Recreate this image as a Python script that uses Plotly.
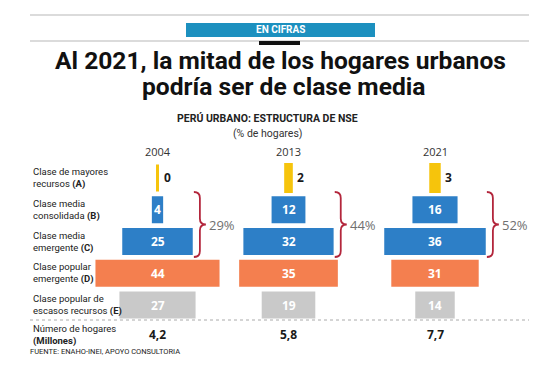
import plotly.graph_objects as go

# ---------------- data ----------------
years = ["2004", "2013", "2021"]
categories = ["A", "B", "C", "D", "E"]
label_main = ["Clase de mayores<br>recursos", "Clase media<br>consolidada", "Clase media<br>emergente",
              "Clase popular<br>emergente", "Clase popular de<br>escasos recursos"]
values_2004 = [0, 4, 25, 44, 27]
values_2013 = [2, 12, 32, 35, 19]
values_2021 = [3, 16, 36, 31, 14]
households = [4.2, 5.8, 7.7]
colors = ["#f6c40c", "#2d7fc7", "#2d7fc7", "#f47f4f", "#c9c9c9"]

series = [values_2004, values_2013, values_2021]

# ---------------- layout helpers ----------------
# the page body has an 8px margin, so the figure is drawn at (8, 8)
OFF = 8
W, H = 550, 359
def px(x): return (x - OFF) / W
def py(y): return 1 - (y - OFF) / H

LABEL = "Roboto, sans-serif"
SANS = "Open Sans, Roboto, sans-serif"

col_centers = [157.5, 288.5, 435.0]
half_px = 65.0
unit_px = 2.82
R = half_px / unit_px
ydom = [py(321), py(162)]

fig = go.Figure()
axis_names = ["x", "x2", "x3"]
layout_axes = {}
for i, (vals, yr) in enumerate(zip(series, years)):
    fig.add_trace(go.Bar(
        y=categories, x=vals, base=[-v / 2 for v in vals], orientation="h",
        marker=dict(color=colors, line=dict(color=colors, width=[3, 0, 0, 0, 0])),
        xaxis=axis_names[i], yaxis="y", showlegend=False, hoverinfo="skip",
    ))
    key = "xaxis" if i == 0 else f"xaxis{i+1}"
    layout_axes[key] = dict(domain=[px(col_centers[i] - half_px), px(col_centers[i] + half_px)],
                            range=[-R, R], visible=False, anchor="y", fixedrange=True)

annotations = []
shapes = []

def ann(**kw):
    kw.setdefault("showarrow", False)
    kw.setdefault("xanchor", "center")
    kw.setdefault("yanchor", "middle")
    annotations.append(kw)

for i, (vals, yr) in enumerate(zip(series, years)):
    xr = axis_names[i]
    ann(xref=xr, yref="paper", x=0, y=py(151), text=yr,
        font=dict(family=SANS, size=11, color="#333"))
    for cat, v in zip(categories, vals):
        if cat == "A":
            ann(xref=xr, yref="y", x=v / 2, y=cat, xanchor="left", xshift=4,
                text=f"<b>{v}</b>", font=dict(family=SANS, size=12, color="#1a1a1a"))
        else:
            ann(xref=xr, yref="y", x=0, y=cat, text=f"<b>{v}</b>",
                font=dict(family=SANS, size=12, color="white"))
    # brace around B + C (clase media)
    c_half = vals[2] / 2
    yt, ym, yb = py(192), py(224.5), py(257)
    r = 6 / H
    path = (f"M 0,{yt} Q 6,{yt} 6,{yt - r} L 6,{ym + r} Q 6,{ym} 12,{ym} "
            f"Q 6,{ym} 6,{ym - r} L 6,{yb + r} Q 6,{yb} 0,{yb}")
    shapes.append(dict(type="path", xref=xr, yref="paper", xsizemode="pixel", xanchor=c_half + 0.4,
                       path=path, line=dict(color="#b3263c", width=1.8)))
    ann(xref=xr, yref="paper", x=c_half, xshift=14, y=py(224.5), xanchor="left",
        text=f"{vals[1] + vals[2]}%", font=dict(family=SANS, size=13, color="#707070"))
    # households
    ann(xref=xr, yref="paper", x=0, y=py(334),
        text="<b>" + f"{households[i]:.1f}".replace(".", ",") + "</b>",
        font=dict(family=SANS, size=12, color="#1a1a1a"))

for cat, lab in zip(categories, label_main):
    ann(xref="paper", yref="y", x=px(31), y=cat, xanchor="left", align="left",
        text=f"{lab} <b>({cat})</b>", font=dict(family=LABEL, size=9.5, color="#222"))

ann(xref="paper", yref="paper", x=px(31), y=py(335), xanchor="left", align="left",
    text="Número de hogares<br><b>(Millones)</b>", font=dict(family=LABEL, size=9.5, color="#222"))
ann(xref="paper", yref="paper", x=px(28), y=py(351), xanchor="left",
    text="FUENTE: ENAHO-INEI, APOYO CONSULTORIA", font=dict(family=LABEL, size=7.5, color="#222"))
ann(xref="paper", yref="paper", x=px(280.5), y=py(30), text="<b>EN CIFRAS</b>",
    font=dict(family="Roboto, sans-serif", size=10, color="white"))
ann(xref="paper", yref="paper", x=px(280), y=py(60), text="<b>Al 2021, la mitad de los hogares urbanos</b>",
    font=dict(family="Roboto, sans-serif", size=24.6, color="#111"))
ann(xref="paper", yref="paper", x=px(283), y=py(86.5), text="<b>podría ser de clase media</b>",
    font=dict(family="Roboto, sans-serif", size=24.6, color="#111"))
ann(xref="paper", yref="paper", x=px(267), y=py(118), text="<b>PERÚ URBANO: ESTRUCTURA DE NSE</b>",
    font=dict(family="Roboto, sans-serif", size=10.5, color="#222"))
ann(xref="paper", yref="paper", x=px(267), y=py(133), text="(% de hogares)",
    font=dict(family="Roboto, sans-serif", size=10.5, color="#333"))

shapes += [
    dict(type="line", xref="paper", yref="paper", x0=px(30), x1=px(529), y0=py(15), y1=py(15),
         line=dict(color="#cfcfcf", width=1.5)),
    dict(type="line", xref="paper", yref="paper", x0=px(30), x1=px(529), y0=py(41), y1=py(41),
         line=dict(color="#cfcfcf", width=1.5)),
    dict(type="rect", xref="paper", yref="paper", x0=px(186), x1=px(375), y0=py(37), y1=py(23),
         fillcolor="#1c90bf", line=dict(width=0)),
    dict(type="rect", xref="paper", yref="paper", x0=px(259), x1=px(300), y0=py(45), y1=py(41),
         fillcolor="#111", line=dict(width=0)),
    dict(type="line", xref="paper", yref="paper", x0=px(30), x1=px(529), y0=py(320), y1=py(320),
         line=dict(color="#aaaaaa", width=1, dash="dot")),
]

fig.update_layout(
    width=W, height=H, margin=dict(l=0, r=0, t=0, b=0),
    paper_bgcolor="white", plot_bgcolor="rgba(0,0,0,0)",
    bargap=0.15,
    yaxis=dict(domain=ydom, categoryorder="array", categoryarray=categories, autorange="reversed",
               visible=False, fixedrange=True, anchor="x"),
    annotations=annotations, shapes=shapes,
    **layout_axes,
)

fig.write_html("out.html")
